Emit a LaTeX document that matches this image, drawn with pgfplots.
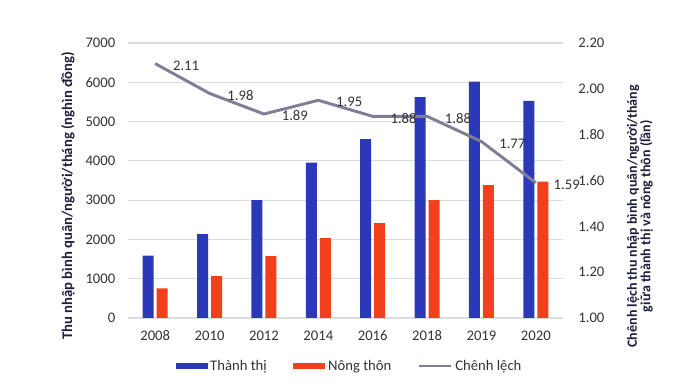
\documentclass[border=0pt]{standalone}
\usepackage{pgfplots}
\pgfplotsset{compat=1.18}
\usepackage{fontspec}
\setmainfont{Carlito}
\definecolor{barblue}{HTML}{2B38B8}
\definecolor{barred}{HTML}{F2401C}
\definecolor{linegray}{HTML}{827D96}
\definecolor{gridgray}{HTML}{DCDCDC}
\definecolor{ticktext}{HTML}{333333}
\definecolor{labtext}{HTML}{1E1E3C}
\begin{document}
\begin{tikzpicture}
\useasboundingbox (-96pt,-49.5pt) rectangle (414pt,238.5pt);
\begin{axis}[
  at={(0pt,0pt)}, anchor=south west,
  scale only axis, width=326.25pt, height=206.25pt,
  xmin=-0.5, xmax=7.5, ymin=0, ymax=7000,
  ybar=2.25pt, bar width=8.25pt,
  xtick={0,...,7}, xticklabels={2008,2010,2012,2014,2016,2018,2019,2020},
  ytick={0,1000,...,7000},
  axis line style={draw=none},
  major tick length=0pt,
  ymajorgrids, grid style={gridgray, line width=0.8pt},
  /pgf/number format/assume math mode=true,
  /pgf/number format/set thousands separator={},
  tick label style={font=\fontsize{11}{12}\selectfont, text=ticktext},
  yticklabel style={xshift=-6pt},
  xticklabel style={yshift=-6pt},
  ylabel={Thu nhập bình quân/người/tháng (nghìn đồng)},
  ylabel style={at={(rel axis cs:-0.138,0.444)}, anchor=center, rotate=0,
    font=\fontsize{11}{12}\selectfont\bfseries, text=labtext},
  legend style={draw=none, fill=none, at={(rel axis cs:0.51,-0.175)}, anchor=center,
    legend columns=-1, font=\fontsize{11}{12}\selectfont, text=ticktext,
    /tikz/every even column/.append style={column sep=18pt}},
  legend cell align=left,
]
\addplot[fill=barblue, draw=none,
  legend image code/.code={\fill[barblue] (0pt,-2.25pt) rectangle (24pt,2.25pt);}]
  coordinates {(0,1590) (1,2135) (2,3000) (3,3953) (4,4555) (5,5620) (6,6015) (7,5525)};
\addlegendentry{Thành thị}
\addplot[fill=barred, draw=none,
  legend image code/.code={\fill[barred] (0pt,-2.25pt) rectangle (24pt,2.25pt);}]
  coordinates {(0,756) (1,1069) (2,1578) (3,2036) (4,2418) (5,3003) (6,3385) (7,3472)};
\addlegendentry{Nông thôn}
\addlegendimage{legend image code/.code={\draw[linegray, line width=2pt] (0pt,0pt) -- (24pt,0pt);}}
\addlegendentry{Chênh lệch}
\end{axis}
\begin{axis}[
  at={(0pt,0pt)}, anchor=south west,
  scale only axis, width=326.25pt, height=206.25pt,
  xmin=-0.5, xmax=7.5, ymin=1, ymax=2.2,
  hide x axis,
  axis y line*=right,
  axis line style={draw=none},
  major tick length=0pt,
  ytick={1,1.2,...,2.21},
  yticklabel={\pgfmathprintnumber[fixed,fixed zerofill,precision=2]{\tick}},
  /pgf/number format/assume math mode=true,
  tick label style={font=\fontsize{11}{12}\selectfont, text=ticktext},
  yticklabel style={xshift=8pt},
  ylabel={Chênh lệch thu nhập bình quân/người/tháng\\giữa thành thị và nông thôn (lần)},
  ylabel style={at={(rel axis cs:1.177,0.37)}, anchor=center, rotate=0, align=center,
    font=\fontsize{10.5}{10}\selectfont\bfseries, text=labtext},
  nodes near coords={\pgfmathprintnumber[fixed,fixed zerofill,precision=2]{\pgfplotspointmeta}},
  point meta=y,
  nodes near coords style={anchor=west, xshift=9pt, yshift=-1.5pt,
    font=\fontsize{11}{12}\selectfont, text=ticktext},
]
\addplot[linegray, line width=2.2pt, mark=none]
  coordinates {(0,2.11) (1,1.98) (2,1.89) (3,1.95) (4,1.88) (5,1.88) (6,1.77) (7,1.59)};
\end{axis}
\end{tikzpicture}
\end{document}
